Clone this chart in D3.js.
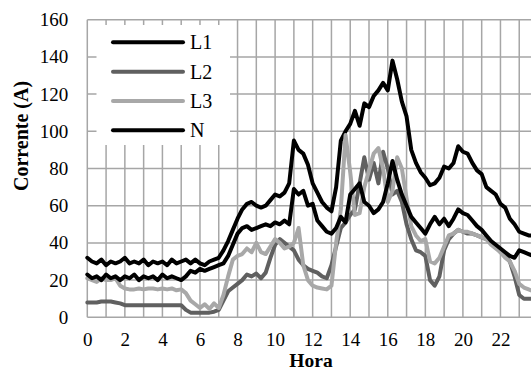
<!DOCTYPE html>
<html>
<head>
<meta charset="utf-8">
<script src="https://cdn.jsdelivr.net/npm/d3@7/dist/d3.min.js"></script>
<style>
  body { margin: 0; background: #fff; }
</style>
</head>
<body>
<div id="chart"></div>
<script>
// Corrente por fase ao longo do dia (amostras de 15 min)
const hours = d3.range(0, 24, 0.25);
const xTicks = [0, 2, 4, 6, 8, 10, 12, 14, 16, 18, 20, 22];
const yTicks = [0, 20, 40, 60, 80, 100, 120, 140, 160];
const seriesNames = ["L1", "L2", "L3", "N"];

const L1 = [
  32, 30, 29, 31, 28, 30, 29, 30,
  32, 29, 30, 29, 31, 28, 30, 29,
  30, 28, 31, 29, 30, 31, 29, 31,
  29, 28, 30, 31, 32, 36, 41, 47,
  53, 58, 61, 62, 60, 59, 60, 63,
  66, 65, 67, 72, 95, 90, 88, 82,
  72, 67, 62, 59, 57, 70, 95, 100,
  104, 111, 103, 115, 113, 119, 122, 126,
  122, 138, 128, 116, 108, 90, 83, 78,
  75, 71, 72, 75, 81, 80, 83, 92,
  89, 88, 83, 79, 77, 70, 68, 66,
  61, 59, 53, 50, 46, 45, 44, 44
];
const L2 = [
  8, 8, 8, 8.5, 8.5, 8.5, 8, 7.5,
  6.5, 6.5, 6.5, 6.5, 6.5, 6.5, 6.5, 6.5,
  6.5, 6.5, 6.5, 6.5, 6.5, 4, 2.5, 2.5,
  2.5, 2.5, 2.5, 3, 4, 9, 14, 16,
  18, 20, 23, 22, 23.5, 21, 24, 32,
  39, 42, 40, 38, 36, 31, 28, 26,
  25, 24, 22, 21, 28, 38, 48, 51,
  55, 58, 72, 86, 74, 83, 72, 89,
  80, 66, 68, 62, 50, 42, 36, 35,
  33, 20, 17, 22, 36, 42, 45, 47,
  46, 45, 45, 44, 43, 42, 40, 38,
  35, 33, 30, 22, 12, 10, 10, 10
];
const L3 = [
  21, 20, 19, 21, 20, 20, 21, 17,
  15.5, 15, 15, 15.5, 15, 15.5, 15.5, 15,
  15.5, 15, 15.5, 14.5, 15, 13, 9, 7,
  5, 7, 4.5, 7.5, 5, 12, 22, 31,
  33, 34, 37, 35, 40, 35, 34, 38,
  42, 40, 37, 38, 40, 48, 28, 20,
  17, 16, 15.5, 15, 17, 40, 58, 98,
  78, 55, 56, 70, 79, 88, 91, 80,
  62, 68, 86, 80, 64, 49, 44, 41,
  42, 30, 29, 32, 38, 44, 45, 47,
  46, 46, 45, 44, 43, 42, 39, 37,
  35, 32, 30, 25, 18, 16, 15, 14
];
const N = [
  23, 21, 22, 20, 23, 21, 22, 20,
  22, 21, 23, 20, 22, 21, 22, 20,
  23, 21, 22, 21, 20, 22, 25, 24,
  26, 25, 26, 27, 28, 29, 33, 39,
  45, 48, 49, 47, 48, 49, 50, 49,
  51, 50, 52, 50, 69, 66, 68, 60,
  61, 52, 49, 46, 45, 48, 54, 51,
  66, 69, 72, 62, 60, 56, 58, 62,
  72, 84, 74, 66, 60, 54, 51, 48,
  45, 50, 54, 50, 53, 49, 53, 58,
  56, 55, 52, 49, 47, 44, 41, 39,
  37, 35, 33, 32, 36, 35, 34, 33
];

const colors = { L1: "#000000", L2: "#606060", L3: "#a8a8a8", N: "#000000" };
const seriesData = { L1, L2, L3, N };

const W = 531, H = 371;
const margin = { left: 87.3, top: 19.7, bottom: 53.7 };
const gridColor = "#a6a6a6";
const serif = "Liberation Serif, Tinos, Noto Serif, DejaVu Serif, Times New Roman, Times, serif";

const svg = d3.select("#chart").append("svg")
  .attr("width", W).attr("height", H)
  .style("font-family", serif);

const x = d3.scaleLinear().domain([0, 23.75]).range([margin.left, margin.left + 23.75 * 18.78]);
const y = d3.scaleLinear().domain([0, 160]).range([H - margin.bottom, margin.top]);

// grid: one vertical line per hour, horizontal every 20 A
const grid = svg.append("g");
grid.selectAll("line.v").data(d3.range(0, 24))
  .join("line").attr("class", "v")
  .attr("x1", d => x(d)).attr("x2", d => x(d))
  .attr("y1", y(0)).attr("y2", y(160))
  .attr("stroke", gridColor).attr("stroke-width", 1.5);
grid.selectAll("line.h").data(yTicks)
  .join("line").attr("class", "h")
  .attr("x1", x(0)).attr("x2", W)
  .attr("y1", d => y(d)).attr("y2", d => y(d))
  .attr("stroke", gridColor).attr("stroke-width", 1.5);

// axes (labels only, lines are the grid)
const xAxis = svg.append("g")
  .attr("transform", `translate(0,${y(0)})`)
  .call(d3.axisBottom(x).tickValues(xTicks).tickSize(0).tickPadding(15.5));
const yAxis = svg.append("g")
  .attr("transform", `translate(${x(0)},0)`)
  .call(d3.axisLeft(y).tickValues(yTicks).tickSize(0).tickPadding(19));
[xAxis, yAxis].forEach(a => {
  a.attr("font-family", null).attr("font-size", null);
  a.select(".domain").remove();
  a.selectAll("text").attr("fill", "#000").style("font-family", serif).style("font-size", "19px");
});

// series
const line = d3.line()
  .x((d, i) => x(hours[i]))
  .y(d => y(d));

svg.append("g").selectAll("path")
  .data(seriesNames)
  .join("path")
  .attr("d", k => line(seriesData[k]))
  .attr("fill", "none")
  .attr("stroke", k => colors[k])
  .attr("stroke-width", 4)
  .attr("stroke-linejoin", "round")
  .attr("stroke-linecap", "round");

// legend
const legend = svg.append("g");
legend.append("rect")
  .attr("x", 96.5).attr("y", 25)
  .attr("width", 133.5).attr("height", 120)
  .attr("fill", "#fff");
const rows = legend.selectAll("g.row").data(seriesNames)
  .join("g").attr("class", "row")
  .attr("transform", (d, i) => `translate(0,${42.3 + i * 29.35})`);
rows.append("line")
  .attr("x1", 113).attr("x2", 183)
  .attr("stroke", d => colors[d]).attr("stroke-width", 4)
  .attr("stroke-linecap", "round");
rows.append("text")
  .attr("x", 190).attr("y", 7)
  .style("font-family", serif).style("font-size", "20px")
  .text(d => d);

// axis titles
svg.append("text")
  .attr("x", 311).attr("y", 367)
  .attr("text-anchor", "middle")
  .style("font-family", serif).style("font-size", "19.5px").style("font-weight", "bold")
  .text("Hora");
svg.append("text")
  .attr("transform", "translate(28,136) rotate(-90)")
  .attr("text-anchor", "middle")
  .style("font-family", serif).style("font-size", "20px").style("font-weight", "bold")
  .text("Corrente (A)");
</script>
</body>
</html>
